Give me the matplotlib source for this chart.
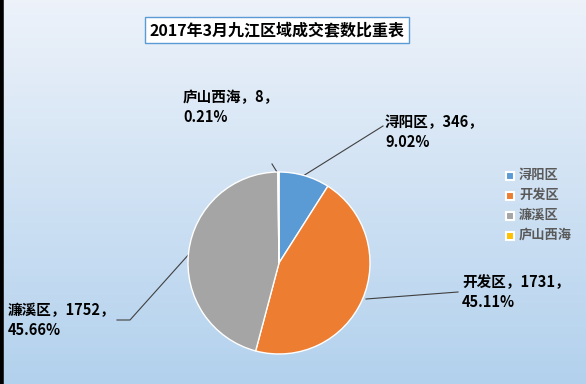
import numpy as np
import matplotlib
matplotlib.use('Agg')
import matplotlib.pyplot as plt

plt.rcParams['font.family'] = ['Noto Sans CJK SC', 'DejaVu Sans']

# 数据
districts = ['浔阳区', '开发区', '濂溪区', '庐山西海']
counts = [346, 1731, 1752, 8]
shares = ['9.02%', '45.11%', '45.66%', '0.21%']
colors = ['#5b9bd5', '#ed7d31', '#a5a5a5', '#ffc000']
title = '2017年3月九江区域成交套数比重表'

W, H = 586, 384
fig = plt.figure(figsize=(W / 100, H / 100), dpi=100)

# 背景渐变
bg = fig.add_axes([0, 0, 1, 1])
grad = np.linspace(0, 1, 256).reshape(-1, 1)
top = np.array([0.93, 0.95, 0.98])
bot = np.array([0.70, 0.82, 0.93])
img = top + (bot - top) * grad[..., None]
bg.imshow(img, aspect='auto', extent=[0, 1, 0, 1], origin='upper')
bg.set_xlim(0, 1)
bg.set_ylim(0, 1)
bg.axis('off')
bg.axvline(0.002, color='black', lw=4)

# 饼图 (中心约 279,263, 半径 ~91 px)
cx, cy, r = 279, 263, 91
ax = fig.add_axes([(cx - r) / W, (H - cy - r) / H, 2 * r / W, 2 * r / H])
ax.pie(counts, colors=colors, startangle=90, counterclock=False,
       wedgeprops=dict(edgecolor='white', linewidth=1))
ax.set_xlim(-1, 1)
ax.set_ylim(-1, 1)
ax.set_aspect('equal')
ax.axis('off')

# 标题
fig.text(277 / W, 1 - 30 / H, title, ha='center', va='center', fontsize=11.5,
         fontweight='bold',
         bbox=dict(boxstyle='square,pad=0.3', fc='white', ec='#5b9bd5', lw=1))

# 数据标签 + 引导线 (像素坐标)
def px(x, y):
    return x / W, 1 - y / H

labels = [f'{d}，{c}，\n{s}' for d, c, s in zip(districts, counts, shares)]
label_pos = [(385, 132), (462, 292), (8, 320), (183, 107)]
lines = [
    [(303, 176), (383, 126)],
    [(366, 299), (458, 292)],
    [(190, 253), (130, 320), (117, 320)],
    [(277, 172), (272, 164)],
]
for lab, (lx, ly), pts in zip(labels, label_pos, lines):
    fig.text(*px(lx, ly), lab, ha='left', va='center', fontsize=10.5,
             fontweight='bold', linespacing=1.3, color='black')
    xs = [p[0] / W for p in pts]
    ys = [1 - p[1] / H for p in pts]
    bg.plot(xs, ys, color='#404040', lw=0.8, transform=fig.transFigure)

# 图例
for i, (d, c) in enumerate(zip(districts, colors)):
    y = 175 + i * 20
    fig.patches.append(plt.Rectangle(px(506, y + 5), 8 / W, 8 / H,
                                     transform=fig.transFigure,
                                     fc=c, ec='white', lw=1.5))
    fig.text(*px(519, y), d, ha='left', va='center', fontsize=9.5,
             fontweight='bold', color='#595959')

fig.savefig('out.png', dpi=100)
